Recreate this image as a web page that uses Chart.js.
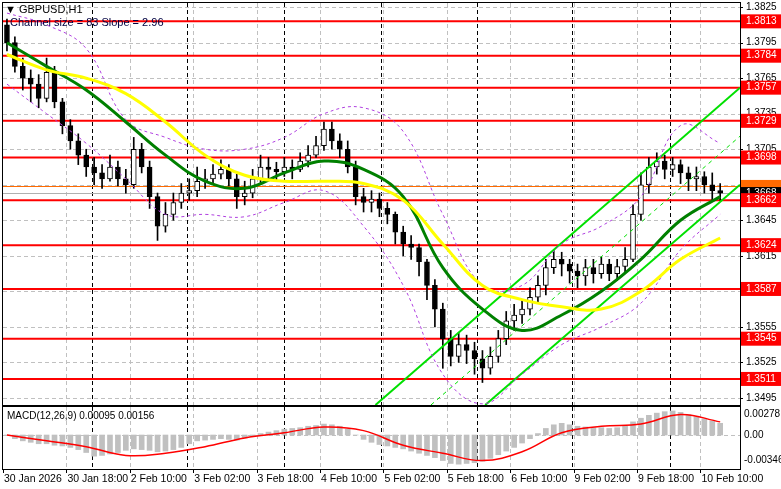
<!DOCTYPE html>
<html><head><meta charset="utf-8">
<script src="https://cdn.jsdelivr.net/npm/chart.js@4.4.1/dist/chart.umd.min.js"></script>
<style>body{margin:0;background:#fff;width:781px;height:489px;overflow:hidden;position:relative}canvas{position:absolute;left:0}</style>
</head><body>
<canvas id="main" width="781" height="406" style="top:0"></canvas>
<canvas id="macd" width="781" height="83" style="top:406px"></canvas>
<script>
const closes=[1.3795,1.3775,1.3765,1.3760,1.3748,1.3770,1.3745,1.3725,1.3712,1.3700,
1.3690,1.3685,1.3680,1.3690,1.3680,1.3675,1.3705,1.3690,1.3665,1.3640,
1.3650,1.3660,1.3668,1.3670,1.3678,1.3680,1.3684,1.3688,1.3680,1.3665,
1.3668,1.3680,1.3690,1.3688,1.3686,1.3690,1.3688,1.3695,1.3700,1.3708,
1.3722,1.3712,1.3705,1.3690,1.3665,1.3660,1.3663,1.3655,1.3650,1.3635,
1.3625,1.3622,1.3610,1.3590,1.3570,1.3545,1.3530,1.3540,1.3535,1.3528,
1.3520,1.3530,1.3545,1.3560,1.3565,1.3570,1.3580,1.3590,1.3605,1.3612,
1.3608,1.3602,1.3598,1.3605,1.3600,1.3608,1.3600,1.3606,1.3612,1.3650,
1.3675,1.3690,1.3695,1.3688,1.3692,1.3685,1.3680,1.3682,1.3675,1.3670,1.3668];
const firstOpen=1.3810;
const highs=[1.3815,1.3800,1.3782,1.3772,1.3768,1.3782,1.3775,1.3748,1.3730,1.3718,
1.3705,1.3698,1.3692,1.3700,1.3695,1.3688,1.3715,1.3710,1.3695,1.3668,
1.3660,1.3668,1.3676,1.3680,1.3690,1.3688,1.3692,1.3696,1.3692,1.3684,
1.3678,1.3688,1.3700,1.3698,1.3694,1.3698,1.3696,1.3702,1.3708,1.3716,
1.3728,1.3728,1.3718,1.3712,1.3695,1.3672,1.3670,1.3668,1.3660,1.3652,
1.3640,1.3632,1.3625,1.3612,1.3595,1.3575,1.3552,1.3550,1.3548,1.3542,
1.3535,1.3538,1.3552,1.3568,1.3574,1.3578,1.3588,1.3598,1.3612,1.3620,
1.3618,1.3612,1.3608,1.3612,1.3612,1.3614,1.3612,1.3612,1.3622,1.3658,
1.3685,1.3698,1.3702,1.3700,1.3698,1.3696,1.3690,1.3690,1.3686,1.3685,1.3676];
const lows=[1.3788,1.3770,1.3755,1.3745,1.3740,1.3745,1.3740,1.3718,1.3705,1.3692,
1.3682,1.3675,1.3672,1.3678,1.3674,1.3668,1.3672,1.3685,1.3655,1.3628,
1.3635,1.3645,1.3655,1.3662,1.3665,1.3672,1.3676,1.3680,1.3674,1.3655,
1.3658,1.3664,1.3676,1.3680,1.3678,1.3682,1.3680,1.3686,1.3690,1.3698,
1.3704,1.3705,1.3698,1.3685,1.3658,1.3652,1.3652,1.3648,1.3642,1.3625,
1.3615,1.3612,1.3598,1.3578,1.3555,1.3520,1.3522,1.3525,1.3524,1.3515,
1.3508,1.3515,1.3525,1.3540,1.3552,1.3558,1.3565,1.3575,1.3582,1.3600,
1.3598,1.3592,1.3588,1.3590,1.3592,1.3596,1.3594,1.3594,1.3600,1.3610,
1.3645,1.3668,1.3684,1.3680,1.3682,1.3676,1.3670,1.3670,1.3668,1.3662,1.3662];
// sampled every 5th candle
const maGreen=[1.3795,1.3775,1.3755,1.3728,1.3700,1.3678,1.3672,1.3685,1.3695,1.3688,1.3665,1.3605,1.3570,1.3552,1.3565,1.3585,1.3612,1.3645,1.3665];
const maYellow=[1.3785,1.3772,1.3765,1.3752,1.3728,1.3700,1.3683,1.3678,1.3678,1.3676,1.3662,1.3625,1.3590,1.3578,1.3572,1.3570,1.3585,1.3612,1.3630];
const envUpper=[1.3820,1.3810,1.3790,1.3730,1.3715,1.3705,1.3705,1.3715,1.3735,1.3740,1.3720,1.3650,1.3590,1.3590,1.3625,1.3640,1.3665,1.3725,1.3710];
const envLower=[1.3760,1.3735,1.3710,1.3680,1.3650,1.3650,1.3648,1.3660,1.3670,1.3640,1.3590,1.3515,1.3490,1.3515,1.3540,1.3555,1.3575,1.3620,1.3650];
const chanUpper=[[94,1.3489],[186,1.3757]];
const chanMid=[[108,1.3489],[186,1.3716]];
const chanLower=[[121.7,1.3489],[186,1.3675]];
const levels=[1.3813,1.3784,1.3757,1.3729,1.3698,1.3662,1.3624,1.3587,1.3545,1.3511];
const bid=1.3668, ask=1.3674;
const priceTicks=[1.3825,1.3795,1.3765,1.3735,1.3705,1.3675,1.3645,1.3615,1.3585,1.3555,1.3525,1.3495];
const timeLabels=["30 Jan 2026","30 Jan 18:00","2 Feb 10:00","3 Feb 02:00","3 Feb 18:00","4 Feb 10:00","5 Feb 02:00","5 Feb 18:00","6 Feb 10:00","9 Feb 02:00","9 Feb 18:00","10 Feb 10:00"];
const daySeps=[22.5,46.5,71,95.5,119.7,143.7,168.4];
const macdHist=[0,-0.0005,-0.0008,-0.0010,-0.0012,-0.0012,-0.0014,-0.0015,-0.0017,-0.0020,
-0.0024,-0.0029,-0.0028,-0.0026,-0.0024,-0.0021,-0.0019,-0.0020,-0.0021,-0.0023,
-0.0022,-0.0020,-0.0017,-0.0012,-0.0008,-0.0007,-0.0006,-0.0005,-0.0006,-0.0007,
-0.0004,-0.0002,0.0002,0.0004,0.0006,0.0008,0.0009,0.0010,0.0012,0.0013,
0.0015,0.0014,0.0012,0.0008,0.0000,-0.0006,-0.0010,-0.0013,-0.0015,-0.0017,
-0.0019,-0.0022,-0.0025,-0.0028,-0.0031,-0.0035,-0.0039,-0.0040,-0.0039,-0.0038,
-0.0036,-0.0032,-0.0027,-0.0022,-0.0017,-0.0011,-0.0005,0.0002,0.0009,0.0014,
0.0016,0.0014,0.0012,0.0011,0.0010,0.0010,0.0009,0.0010,0.0012,0.0018,
0.0023,0.0027,0.0030,0.0032,0.0033,0.0031,0.0028,0.0025,0.0022,0.0019,0.0016];
const macdSignal=[0,-0.0008,-0.0016,-0.0028,-0.0025,-0.0016,-0.0004,0.0003,0.0011,0.0006,-0.0014,-0.0025,-0.0035,-0.0023,0.0003,0.0012,0.0015,0.0028,0.0018];
const macdTicks=[0.00278,0,-0.00346];

const X=i=>2*i+1;
const opens=closes.map((c,i)=>i===0?firstOpen:closes[i-1]);
const pts=a=>a.map((v,k)=>({x:X(k*5),y:v}));
const seg=a=>a.map(p=>({x:p[0],y:p[1]}));
const FONT='"Liberation Sans"';

const mainPlugin={id:'mp',
 beforeDatasetsDraw(c){const {ctx,chartArea:a,scales:{x,y}}=c;ctx.save();
  ctx.strokeStyle='#c0c0c0';ctx.lineWidth=1;ctx.setLineDash([4,3]);
  for(let u=16;u<186;u+=16){const px=Math.round(x.getPixelForValue(u))+.5;ctx.beginPath();ctx.moveTo(px,a.top);ctx.lineTo(px,a.bottom);ctx.stroke();}
  priceTicks.forEach(v=>{const py=Math.round(y.getPixelForValue(v))+.5;ctx.beginPath();ctx.moveTo(a.left,py);ctx.lineTo(a.right,py);ctx.stroke();});
  ctx.strokeStyle='#000';ctx.setLineDash([4,3]);
  daySeps.forEach(u=>{const px=Math.round(x.getPixelForValue(u))+.5;ctx.beginPath();ctx.moveTo(px,a.top);ctx.lineTo(px,a.bottom);ctx.stroke();});
  ctx.setLineDash([]);
  ctx.strokeStyle='#b0b0b0';ctx.lineWidth=1;let py=Math.round(y.getPixelForValue(bid))+.5;ctx.beginPath();ctx.moveTo(a.left,py);ctx.lineTo(a.right,py);ctx.stroke();
  ctx.strokeStyle='#ff6a00';py=Math.round(y.getPixelForValue(ask))+.5;ctx.beginPath();ctx.moveTo(a.left,py);ctx.lineTo(a.right,py);ctx.stroke();
  ctx.strokeStyle='#ff0000';ctx.lineWidth=2;
  levels.forEach(v=>{const py=y.getPixelForValue(v);ctx.beginPath();ctx.moveTo(a.left,py);ctx.lineTo(a.right,py);ctx.stroke();});
  ctx.restore();},
 afterDraw(c){const {ctx,chartArea:a,scales:{y}}=c;ctx.save();
  ctx.strokeStyle='#000';ctx.lineWidth=1;ctx.strokeRect(a.left-.5,a.top-.5,a.right-a.left+1,a.bottom-a.top+1);
  ctx.font='10px '+FONT;ctx.textBaseline='middle';ctx.textAlign='left';
  ctx.fillStyle='#000';
  priceTicks.forEach(v=>{const py=y.getPixelForValue(v);ctx.beginPath();ctx.moveTo(a.right,Math.round(py)+.5);ctx.lineTo(a.right+3,Math.round(py)+.5);ctx.stroke();ctx.fillText(v.toFixed(4),a.right+6,py);});
  let py=y.getPixelForValue(ask);ctx.fillStyle='#ff6a00';ctx.fillRect(a.right+1,py-6,40,12);
  py=y.getPixelForValue(bid);ctx.fillStyle='#000';ctx.fillRect(a.right+1,py-6,40,12);ctx.fillStyle='#fff';ctx.fillText(bid.toFixed(4),a.right+6,py);
  levels.forEach(v=>{const py=y.getPixelForValue(v);ctx.fillStyle='#ff0000';ctx.fillRect(a.right+1,py-7,40,14);ctx.fillStyle='#fff';ctx.fillText(v.toFixed(4),a.right+6,py);});
  ctx.fillStyle='#000';ctx.font='11px '+FONT;ctx.fillText('\u25BC GBPUSD,H1',5,10);
  ctx.fillStyle='#000040';ctx.fillText('Channel size = 83 Slope = 2.96',10,23);
  ctx.restore();}
};

new Chart(document.getElementById('main'),{
 data:{datasets:[
  {type:'line',data:pts(maYellow),borderColor:'#ffff00',borderWidth:3,pointRadius:0,tension:0.4,order:0},
  {type:'line',data:pts(maGreen),borderColor:'#008000',borderWidth:3,pointRadius:0,tension:0.4,order:0},
  {type:'line',data:pts(envUpper),borderColor:'#b040e0',borderWidth:1,borderDash:[3,3],pointRadius:0,tension:0.4,order:0},
  {type:'line',data:pts(envLower),borderColor:'#b040e0',borderWidth:1,borderDash:[3,3],pointRadius:0,tension:0.4,order:0},
  {type:'line',data:seg(chanUpper),borderColor:'#00e000',borderWidth:2,pointRadius:0,order:0},
  {type:'line',data:seg(chanMid),borderColor:'#00e000',borderWidth:1,borderDash:[4,4],pointRadius:0,order:0},
  {type:'line',data:seg(chanLower),borderColor:'#00e000',borderWidth:2,pointRadius:0,order:0},
  {type:'bar',data:closes.map((c,i)=>({x:X(i),y:[opens[i],c]})),backgroundColor:closes.map((c,i)=>c>=opens[i]?'#fff':'#000'),borderColor:'#000',borderWidth:1,borderSkipped:false,barThickness:5,grouped:false,order:1},
  {type:'bar',data:closes.map((c,i)=>({x:X(i),y:[lows[i],highs[i]]})),backgroundColor:'#000',barThickness:1,grouped:false,order:2}
 ]},
 options:{responsive:false,animation:false,devicePixelRatio:1,
  layout:{padding:{left:3,top:3,bottom:1,right:0}},
  plugins:{legend:{display:false},tooltip:{enabled:false}},
  scales:{
   x:{type:'linear',min:0,max:186,offset:false,display:false},
   y:{position:'right',min:1.3489,max:1.38285,
     afterFit(s){s.width=41;},
     grid:{display:false},border:{display:false},ticks:{display:false}}
  }},
 plugins:[mainPlugin]
});

const macdPlugin={id:'mc',
 beforeDatasetsDraw(c){const {ctx,chartArea:a,scales:{x,y}}=c;ctx.save();
  ctx.strokeStyle='#c0c0c0';ctx.setLineDash([4,3]);ctx.lineWidth=1;
  for(let u=16;u<186;u+=16){const px=Math.round(x.getPixelForValue(u))+.5;ctx.beginPath();ctx.moveTo(px,a.top);ctx.lineTo(px,a.bottom);ctx.stroke();}
  const py=Math.round(y.getPixelForValue(0))+.5;ctx.beginPath();ctx.moveTo(a.left,py);ctx.lineTo(a.right,py);ctx.stroke();
  ctx.strokeStyle='#000';
  daySeps.forEach(u=>{const px=Math.round(x.getPixelForValue(u))+.5;ctx.beginPath();ctx.moveTo(px,a.top);ctx.lineTo(px,a.bottom);ctx.stroke();});
  ctx.restore();},
 afterDraw(c){const {ctx,chartArea:a,scales:{x,y}}=c;ctx.save();
  ctx.strokeStyle='#000';ctx.lineWidth=1;ctx.strokeRect(a.left-.5,a.top-.5,a.right-a.left+1,a.bottom-a.top+1);
  ctx.font='10px '+FONT;ctx.fillStyle='#000';ctx.textBaseline='middle';ctx.textAlign='left';
  ctx.fillText('MACD(12,26,9) 0.00095 0.00156',7,a.top+9);
  macdTicks.forEach(v=>{const py=y.getPixelForValue(v);ctx.fillText(v===0?'0.00':v.toFixed(5),a.right+4,py);});
  ctx.font='10.5px '+FONT;
  timeLabels.forEach((t,k)=>{const px=x.getPixelForValue(k*16);ctx.beginPath();ctx.moveTo(Math.round(px)+.5,a.bottom);ctx.lineTo(Math.round(px)+.5,a.bottom+4);ctx.stroke();ctx.fillText(t,px+1,a.bottom+10);});
  ctx.restore();}
};

new Chart(document.getElementById('macd'),{
 data:{datasets:[
  {type:'line',data:pts(macdSignal),borderColor:'#ff0000',borderWidth:1.5,pointRadius:0,tension:0.4,order:0},
  {type:'bar',data:macdHist.map((v,i)=>({x:X(i),y:v})),backgroundColor:'#c0c0c0',barThickness:5,grouped:false,order:1}
 ]},
 options:{responsive:false,animation:false,devicePixelRatio:1,
  layout:{padding:{left:3,top:1,bottom:20,right:0}},
  plugins:{legend:{display:false},tooltip:{enabled:false}},
  scales:{
   x:{type:'linear',min:0,max:186,offset:false,display:false},
   y:{position:'right',min:-0.00466,max:0.00384,
     afterFit(s){s.width=41;},
     grid:{display:false},border:{display:false},ticks:{display:false}}
  }},
 plugins:[macdPlugin]
});
</script>
</body></html>
